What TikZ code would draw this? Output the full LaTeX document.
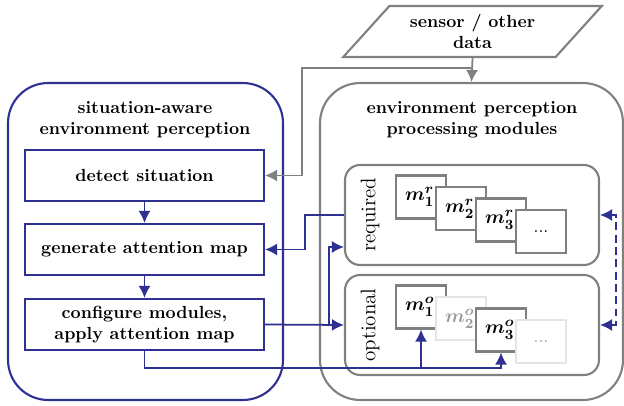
\documentclass[tikz,border=0pt]{standalone}
\usepackage{amsmath}
\usepackage{tikz}
\usetikzlibrary{
  arrows.meta, % for changing arrow head size
  calc,
  positioning,
  shapes.geometric,
}
\definecolor{attblue}{RGB}{46,49,146}
\definecolor{modgray}{RGB}{128,128,128}
\definecolor{fadegray}{RGB}{228,228,228}

\begin{document}
\begin{tikzpicture}[x=0.02cm, y=-0.02cm,
    bigbox/.style={draw, line width=1.2pt, rounded corners=0.8cm},
    stepbox/.style={draw=attblue, line width=1.2pt, minimum width=4.78cm,
      minimum height=1.02cm, align=center, font=\bfseries},
    groupbox/.style={draw=modgray, line width=1.2pt, rounded corners=0.3cm,
      minimum width=5.08cm, minimum height=2cm},
    modbox/.style={draw=modgray, fill=white, line width=1.2pt, inner xsep=0.18cm,
      text width=0.64cm, align=left, minimum height=0.86cm,
      font=\fontsize{11pt}{13pt}\selectfont},
    fadebox/.style={modbox, draw=fadegray, text=modgray!80},
    bluearrow/.style={attblue, line width=1pt, -{Latex[length=2.4mm, width=2.4mm]}},
    grayarrow/.style={modgray, line width=1pt, -{Latex[length=2.4mm, width=2.4mm]}},
  ]
  \useasboundingbox (0,0) rectangle (624,405);

  % the two large containers
  \node [bigbox, draw=attblue, minimum width=5.5cm, minimum height=6.34cm] (left) at (145.5,241.5) {};
  \node [bigbox, draw=modgray, minimum width=6.06cm, minimum height=6.34cm] (right) at (471.5,241.5) {};
  \node [align=center, font=\bfseries] (lefttitle) at (145,120) {situation-aware\\environment perception};
  \node [align=center, font=\bfseries] (righttitle) at (472,120) {environment perception\\processing modules};

  % input data
  \node [trapezium, trapezium stretches=true, trapezium left angle=50.5, trapezium right angle=129.5,
    draw=modgray, line width=1.2pt, minimum width=5.18cm, minimum height=1.02cm,
    align=center, font=\bfseries] (sensor) at (472.5,31.5) {sensor / other\\data};

  % processing steps
  \node [stepbox] (detect) at (144.5,175.5) {detect situation};
  \node [stepbox] (generate) at (144.5,249.5) {generate attention map};
  \node [stepbox] (configure) at (144.5,324.5) {configure modules,\\apply attention map};

  % module groups
  \node [groupbox] (required) at (472,215) {};
  \node [groupbox] (optional) at (472,325) {};
  \node [rotate=90, font=\large] (reqlabel) at (370,215) {required};
  \node [rotate=90, font=\large] (optlabel) at (370,325) {optional};

  \node [modbox] (m1r) at (421,197) {$\boldsymbol{m_1^r}$};
  \node [modbox] (m2r) at (461,208.5) {$\boldsymbol{m_2^r}$};
  \node [modbox] (m3r) at (501,220) {$\boldsymbol{m_3^r}$};
  \node [modbox, align=center, font=\normalsize] (dotsr) at (541,231.5) {...};

  \node [modbox] (m1o) at (421,307) {$\boldsymbol{m_1^o}$};
  \node [fadebox] (m2o) at (461,318.5) {$\boldsymbol{m_2^o}$};
  \node [modbox] (m3o) at (501,330) {$\boldsymbol{m_3^o}$};
  \node [fadebox, align=center, font=\normalsize] (dotso) at (541,341.5) {...};

  % data flow
  \coordinate (split) at ([yshift=-0.2cm]sensor.south);
  \draw [grayarrow] (sensor.south) -- (right.north);
  \draw [grayarrow] (split) -| ([xshift=0.74cm]detect.east) -- (detect.east);

  \draw [bluearrow] (detect) -- (generate);
  \draw [bluearrow] (generate) -- (configure);
  \draw [bluearrow] (configure.east) -- (optional.west);
  \draw [bluearrow] ([xshift=1.28cm]configure.east) |- ([yshift=-0.64cm]required.west);
  \draw [bluearrow] (required.west) -| ([xshift=0.8cm]generate.east) -- (generate.east);

  \coordinate (low) at ([yshift=-0.34cm]configure.south);
  \draw [bluearrow] (configure.south) -- (low) -| (m3o.south);
  \draw [bluearrow] (low -| m1o.south) -- (m1o.south);

  \draw [bluearrow, dash pattern=on 4.5pt off 2.5pt, {Latex[length=2.4mm, width=2.4mm]}-{Latex[length=2.4mm, width=2.4mm]}]
    (required.east) -- ++(16,0) |- (optional.east);
\end{tikzpicture}
\end{document}
